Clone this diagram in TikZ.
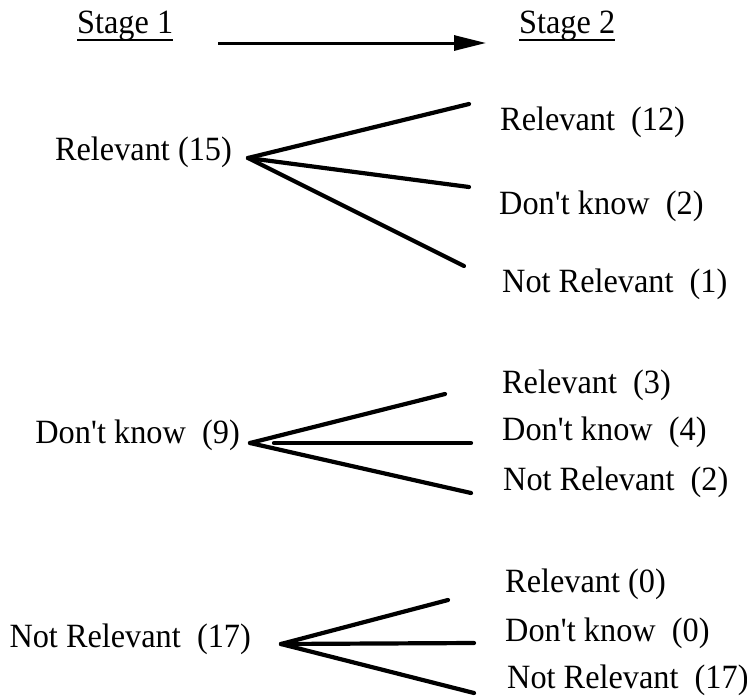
\documentclass[tikz,border=0pt]{standalone}
\usepackage{fontspec}
\setmainfont[FakeStretch=0.95]{Liberation Serif}
\usetikzlibrary{arrows.meta}
\newcommand{\apos}{\textquotesingle}
\begin{document}
\begin{tikzpicture}[x=1pt,y=-1pt,
  lbl/.style={inner sep=0pt,font=\fontsize{34}{40}\selectfont},
  branch/.style={line width=4.2pt,line cap=round},
  uline/.style={line width=1.8pt}]
\useasboundingbox (0,0) rectangle (747,699);

% stage headings
\node[lbl,anchor=base west] (s1) at (77,33) {Stage 1};
\node[lbl,anchor=base west] (s2) at (519,33) {Stage 2};
\draw[uline] ([yshift=-7pt]s1.base west) -- ([yshift=-7pt]s1.base east);
\draw[uline] ([yshift=-7pt]s2.base west) -- ([yshift=-7pt]s2.base east);
\coordinate (arA) at (218,43);
\coordinate (arB) at (486,43);
\draw[line width=3pt,-{Triangle[length=32pt,width=15pt]}] (arA) -- (arB);

% stage 1 categories
\node[lbl,anchor=base east] (r15) at (232,160) {Relevant (15)};
\node[lbl,anchor=base east] (d9)  at (240,443) {Don\apos t know\ \ (9)};
\node[lbl,anchor=base east] (n17) at (251,647) {Not Relevant\ \ (17)};

% stage 2 outcomes
\node[lbl,anchor=base west] (r12) at (500,130) {Relevant\ \ (12)};
\node[lbl,anchor=base west] (d2)  at (499,214) {Don\apos t know\ \ (2)};
\node[lbl,anchor=base west] (n1)  at (502,292) {Not Relevant\ \ (1)};

\node[lbl,anchor=base west] (r3)  at (502,393) {Relevant\ \ (3)};
\node[lbl,anchor=base west] (d4)  at (502,440) {Don\apos t know\ \ (4)};
\node[lbl,anchor=base west] (n2)  at (503,490) {Not Relevant\ \ (2)};

\node[lbl,anchor=base west] (r0)  at (505,592) {Relevant (0)};
\node[lbl,anchor=base west] (d0)  at (505,641) {Don\apos t know\ \ (0)};
\node[lbl,anchor=base west] (n17b) at (507,688) {Not Relevant\ \ (17)};

% branch points
\coordinate (o1) at (248,158);
\coordinate (o2) at (250,443);
\coordinate (o3) at (281,644);

% branch ends
\coordinate (e1a) at (469,104);
\coordinate (e1b) at (469,187);
\coordinate (e1c) at (464,266);
\coordinate (e2a) at (445,394);
\coordinate (e2m) at (274,443);
\coordinate (e2b) at (471,443);
\coordinate (e2c) at (471,493);
\coordinate (e3a) at (448,600);
\coordinate (e3b) at (474,643);
\coordinate (e3c) at (474,693);

\draw[branch] (o1) -- (e1a);
\draw[branch] (o1) -- (e1b);
\draw[branch] (o1) -- (e1c);
\draw[branch] (o2) -- (e2a);
\draw[branch] (e2m) -- (e2b);
\draw[branch] (o2) -- (e2c);
\draw[branch] (o3) -- (e3a);
\draw[branch] (o3) -- (e3b);
\draw[branch] (o3) -- (e3c);
\end{tikzpicture}
\end{document}
